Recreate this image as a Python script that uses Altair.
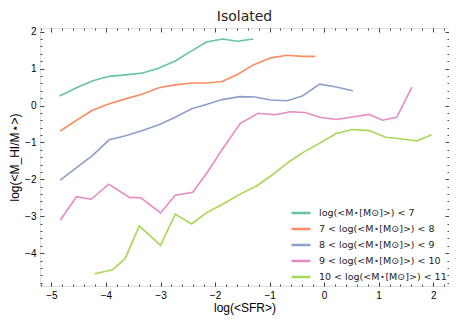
import altair as alt
import pandas as pd

# ---- data ----
series_labels = [
    "log(<M⋆[M⊙]>) < 7",
    "7 < log(<M⋆[M⊙]>) < 8",
    "8 < log(<M⋆[M⊙]>) < 9",
    "9 < log(<M⋆[M⊙]>) < 10",
    "10 < log(<M⋆[M⊙]>) < 11",
]
series_colors = ["#66c2a5", "#fc8d62", "#8da0cb", "#e78ac3", "#a6d854"]

x_lt7 = [-4.85, -4.54, -4.24, -3.94, -3.64, -3.33, -3.05, -2.74, -2.45, -2.16, -1.86, -1.59, -1.30]
y_lt7 = [0.26, 0.48, 0.67, 0.79, 0.83, 0.88, 1.00, 1.20, 1.46, 1.72, 1.80, 1.74, 1.80]

x_7_8 = [-4.84, -4.54, -4.25, -3.94, -3.64, -3.33, -3.03, -2.73, -2.43, -2.16, -1.87, -1.59, -1.30,
         -0.98, -0.68, -0.40, -0.16]
y_7_8 = [-0.69, -0.40, -0.13, 0.05, 0.18, 0.31, 0.48, 0.56, 0.61, 0.61, 0.65, 0.84, 1.10,
         1.29, 1.36, 1.33, 1.33]

x_8_9 = [-4.84, -4.54, -4.25, -3.94, -3.64, -3.33, -3.03, -2.73, -2.43, -2.16, -1.87, -1.55, -1.27,
         -0.98, -0.68, -0.40, -0.08, 0.22, 0.53]
y_8_9 = [-2.02, -1.68, -1.36, -0.93, -0.82, -0.68, -0.52, -0.32, -0.09, 0.03, 0.16, 0.24, 0.23,
         0.15, 0.13, 0.26, 0.58, 0.50, 0.40]

x_9_10 = [-4.84, -4.54, -4.27, -3.95, -3.57, -3.36, -3.00, -2.73, -2.41, -2.15, -1.87, -1.54,
          -1.21, -0.90, -0.62, -0.35, -0.08, 0.22, 0.52, 0.82, 1.07, 1.33, 1.61]
y_9_10 = [-3.11, -2.47, -2.54, -2.13, -2.49, -2.50, -2.91, -2.43, -2.35, -1.83, -1.19, -0.49,
          -0.21, -0.25, -0.17, -0.19, -0.32, -0.38, -0.31, -0.24, -0.40, -0.32, 0.50]

x_10_11 = [-4.21, -3.88, -3.65, -3.39, -3.00, -2.73, -2.43, -2.16, -1.87, -1.54, -1.24, -0.96,
           -0.65, -0.36, -0.08, 0.22, 0.52, 0.83, 1.13, 1.40, 1.70, 1.97]
y_10_11 = [-4.56, -4.45, -4.15, -3.26, -3.79, -2.94, -3.21, -2.91, -2.68, -2.40, -2.18, -1.89,
           -1.53, -1.25, -1.02, -0.76, -0.65, -0.68, -0.86, -0.90, -0.96, -0.79]

x_major = [-5, -4, -3, -2, -1, 0, 1, 2]
y_major = [-4, -3, -2, -1, 0, 1, 2]
x_minor = [round(-5.2 + 0.2 * i, 1) for i in range(38)]
y_minor = [round(-4.8 + 0.2 * i, 1) for i in range(35)]

rows = []
for lab, xs_, ys_ in zip(series_labels,
                         [x_lt7, x_7_8, x_8_9, x_9_10, x_10_11],
                         [y_lt7, y_7_8, y_8_9, y_9_10, y_10_11]):
    for i, (a, b) in enumerate(zip(xs_, ys_)):
        rows.append({"series": lab, "x": a, "y": b, "order": i})
df = pd.DataFrame(rows)

W, H = 409, 258
FONT = "DejaVu Sans"
xscale = alt.Scale(domain=[-5.21, 2.29], nice=False, zero=False)
yscale = alt.Scale(domain=[-4.89, 2.10], nice=False, zero=False)

lines = alt.Chart(df).mark_line(strokeWidth=1.6).encode(
    x=alt.X("x:Q", scale=xscale,
            axis=alt.Axis(values=x_major, format="d", tickSize=0, domain=False, grid=False,
                          labelPadding=4, titlePadding=2, title="log(<SFR>)",
                          titleFontWeight="normal", titleFontSize=12)),
    y=alt.Y("y:Q", scale=yscale,
            axis=alt.Axis(values=y_major, format="d", tickSize=0, domain=False, grid=False,
                          labelPadding=4, titlePadding=3, title="log(<M_HI/M⋆>)",
                          titleFontWeight="normal", titleFontSize=12)),
    color=alt.Color("series:N", sort=series_labels,
                    scale=alt.Scale(domain=series_labels, range=series_colors),
                    legend=alt.Legend(title=None, orient="none", legendX=250, legendY=174,
                                      symbolType="stroke", symbolSize=361, symbolStrokeWidth=2.5,
                                      labelOffset=7, labelFontSize=9.5, labelFont=FONT,
                                      labelColor="#222", rowPadding=-3, labelLimit=200)),
    order="order:Q",
)


def tick_layer(xorient, yorient, xvals, yvals, size):
    return alt.Chart(df).mark_line(opacity=0).encode(
        x=alt.X("x:Q", scale=xscale,
                axis=alt.Axis(orient=xorient, offset=-H, values=xvals, tickSize=size,
                              labels=False, domain=False, grid=False, title="",
                              tickColor="#444")),
        y=alt.Y("y:Q", scale=yscale,
                axis=alt.Axis(orient=yorient, offset=-W, values=yvals, tickSize=size,
                              labels=False, domain=False, grid=False, title="",
                              tickColor="#444")),
        detail="series:N",
        order="order:Q",
    )


chart = alt.layer(
    lines,
    tick_layer("top", "right", x_major, y_major, 4),
    tick_layer("bottom", "left", x_major, y_major, 4),
    tick_layer("top", "right", x_minor, y_minor, 2),
    tick_layer("bottom", "left", x_minor, y_minor, 2),
).resolve_axis(x="independent", y="independent").properties(
    width=W, height=H,
    title=alt.TitleParams("Isolated", fontSize=14, fontWeight="normal", font=FONT, offset=3,
                          color="#222"),
    padding={"left": 32, "top": 20, "right": 0, "bottom": 30},
    autosize=alt.AutoSizeParams(type="none"),
).configure_view(stroke="#333", strokeWidth=1).configure_axis(
    labelFont=FONT, titleFont=FONT, labelFontSize=10, titleFontSize=12,
    labelColor="#222", titleColor="#222", titleFontWeight="normal",
).configure(background="white")

chart.save("out.html", embed_options={"renderer": "svg", "actions": False})
